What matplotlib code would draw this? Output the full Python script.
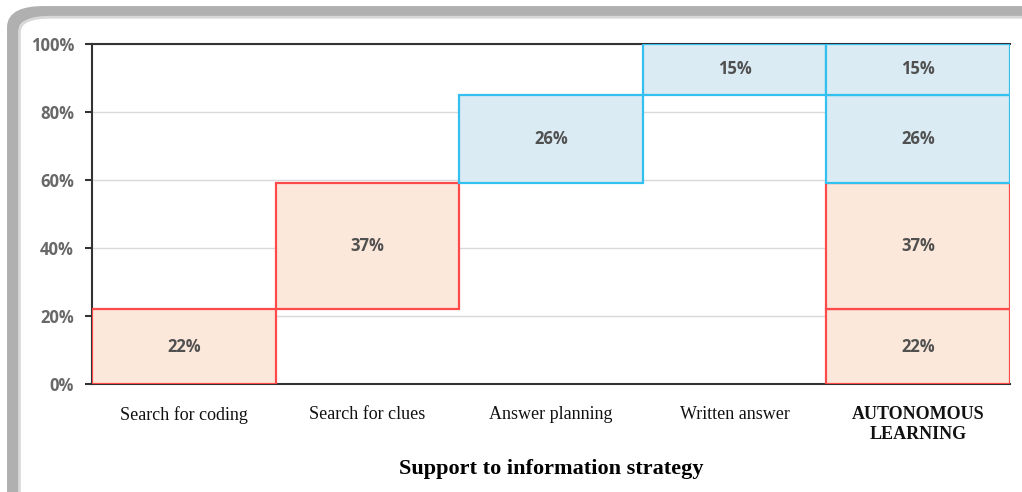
import numpy as np
import matplotlib.pyplot as plt
from matplotlib.patches import FancyBboxPatch

# data
categories = ['Search for coding', 'Search for clues', 'Answer planning',
              'Written answer', 'AUTONOMOUS\nLEARNING']
steps = [22, 37, 26, 15]
step_kind = ['red', 'red', 'blue', 'blue']
yticks = [0, 20, 40, 60, 80, 100]

colors = {'red': ('#FCE8DA', '#FF4A4A'), 'blue': ('#DAEBF3', '#33C0F0')}

fig = plt.figure(figsize=(10.22, 4.92), dpi=100)

# rounded frame with shadow around the whole chart
shadow = FancyBboxPatch((0.013, -0.05), 1.05, 1.025,
                        boxstyle='round,pad=0,rounding_size=0.03',
                        transform=fig.transFigure, facecolor='none',
                        edgecolor='#b0b0b0', linewidth=9, zorder=-2)
frame = FancyBboxPatch((0.019, -0.045), 1.05, 1.01,
                       boxstyle='round,pad=0,rounding_size=0.03',
                       transform=fig.transFigure, facecolor='white',
                       edgecolor='#d8d8d8', linewidth=2, zorder=-1)
fig.add_artist(shadow)
fig.add_artist(frame)

ax = fig.add_axes([92 / 1022, 1 - 384 / 492, (1010 - 92) / 1022, (384 - 44) / 492])
ax.set_facecolor('none')

x = np.arange(len(categories))
bottoms = np.concatenate([[0], np.cumsum(steps)[:-1]])

# waterfall steps
for i, (v, b, k) in enumerate(zip(steps, bottoms, step_kind)):
    fc, ec = colors[k]
    ax.bar(x[i], v, bottom=b, width=1.0, facecolor=fc, edgecolor=ec,
           linewidth=1.6, zorder=3)
    ax.text(x[i], b + v / 2, f'{v}%', ha='center', va='center',
            fontsize=12, fontweight='bold', color='#505050',
            family='Open Sans', zorder=4)

# total column
for v, b, k in zip(steps, bottoms, step_kind):
    fc, ec = colors[k]
    ax.bar(x[-1], v, bottom=b, width=1.0, facecolor=fc, edgecolor=ec,
           linewidth=1.6, zorder=3)
    ax.text(x[-1], b + v / 2, f'{v}%', ha='center', va='center',
            fontsize=12, fontweight='bold', color='#505050',
            family='Open Sans', zorder=4)

ax.set_xlim(-0.5, len(categories) - 0.5)
ax.set_ylim(0, 100)
ax.set_yticks(yticks)
ax.set_yticklabels([f'{t}%' for t in yticks], fontsize=12, fontweight='bold',
                   color='#686868', family='Open Sans')
ax.yaxis.grid(True, color='#d9d9d9', linewidth=1, zorder=0)
ax.set_axisbelow(True)

ax.set_xticks(x)
ax.set_xticklabels(categories, family='Liberation Serif', fontsize=13,
                   color='#111111', linespacing=1.2)
ax.get_xticklabels()[-1].set_fontweight('bold')
ax.tick_params(axis='x', length=0, pad=16)
ax.tick_params(axis='y', length=5, width=1.5, color='#333333', pad=8)

for s in ['left', 'bottom', 'top']:
    ax.spines[s].set_color('#333333')
    ax.spines[s].set_linewidth(1.5)
ax.spines['right'].set_visible(False)

ax.set_xlabel('Support to information strategy', family='Liberation Serif',
              fontsize=16, fontweight='bold', labelpad=12)

fig.savefig('out.png', dpi=100)
